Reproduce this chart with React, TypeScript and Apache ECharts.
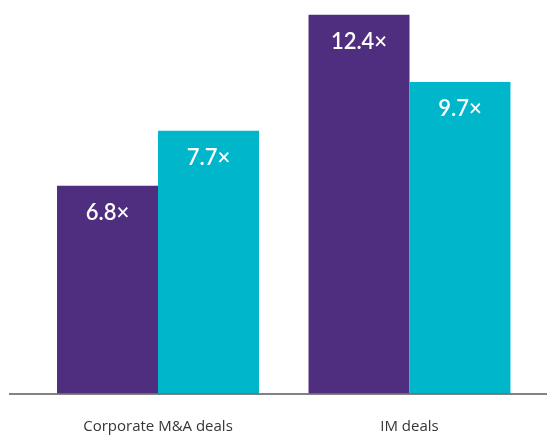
import React, { useEffect, useRef } from "react";
import * as echarts from "echarts";

const categories = ["Corporate M&A deals", "IM deals"];
// purple series: drawn heights match labelled values
const purpleValues = [6.8, 12.4];
// teal series: labelled values and heights as drawn in the source picture
const tealLabels = [7.7, 9.7];
const tealDrawn = [8.6, 10.2];

const PURPLE = "#4F2D7F";
const TEAL = "#00B6CB";

export default function App() {
  const ref = useRef<HTMLDivElement>(null);
  useEffect(() => {
    const chart = echarts.init(ref.current!, null, { renderer: "svg" });
    const labelStyle = {
      show: true,
      position: "insideTop" as const,
      distance: 15,
      color: "#ffffff",
      fontSize: 22,
      fontWeight: 600,
      fontFamily: "Lato",
    };
    chart.setOption({
      animation: false,
      grid: { left: 32.25, right: 11.75, top: 2.5, bottom: 43.5 },
      xAxis: {
        type: "category",
        data: categories,
        axisLine: { show: false },
        axisTick: { show: false },
        axisLabel: {
          color: "#363636",
          fontSize: 15,
          fontFamily: "Open Sans",
          margin: 24,
        },
      },
      yAxis: {
        type: "value",
        min: 0,
        max: 12.8,
        show: false,
        splitLine: { show: false },
      },
      series: [
        {
          type: "bar",
          data: purpleValues,
          barGap: "0%",
          barCategoryGap: "19.7%",
          itemStyle: { color: PURPLE },
          label: { ...labelStyle, formatter: (p: any) => `${purpleValues[p.dataIndex].toFixed(1)}×` },
        },
        {
          type: "bar",
          data: tealDrawn,
          itemStyle: { color: TEAL },
          label: { ...labelStyle, formatter: (p: any) => `${tealLabels[p.dataIndex].toFixed(1)}×` },
        },
      ],
      graphic: [
        {
          type: "line",
          shape: { x1: 9, y1: 394, x2: 547, y2: 394 },
          style: { stroke: "#5a5a5a", lineWidth: 1.5 },
          z: 10,
        },
      ],
    });
    return () => chart.dispose();
  }, []);
  return (
    <div
      ref={ref}
      style={{ position: "fixed", left: 0, top: 0, width: 547, height: 437 }}
    />
  );
}
